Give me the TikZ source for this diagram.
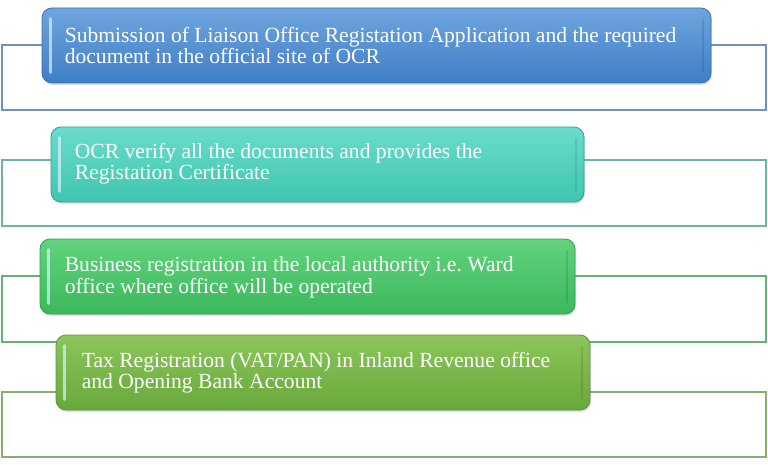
\documentclass[tikz,border=0pt]{standalone}
\usepackage{fontspec}
\setmainfont{Liberation Serif}
\usetikzlibrary{shadows}
\definecolor{bAt}{HTML}{6FA5DE}\definecolor{bAb}{HTML}{3F7EC5}\definecolor{bAd}{HTML}{3A70B0}
\definecolor{bBt}{HTML}{6ADCCB}\definecolor{bBb}{HTML}{3FC6AE}\definecolor{bBd}{HTML}{35A08C}
\definecolor{bCt}{HTML}{62D37E}\definecolor{bCb}{HTML}{3CB85B}\definecolor{bCd}{HTML}{35A050}
\definecolor{bDt}{HTML}{8CC65C}\definecolor{bDb}{HTML}{68A83A}\definecolor{bDd}{HTML}{5E963A}
\definecolor{rA}{HTML}{7090C0}\definecolor{rB}{HTML}{6DB3AA}\definecolor{rC}{HTML}{6AAF78}\definecolor{rD}{HTML}{88AE6E}
\definecolor{hl}{HTML}{D8F4FF}
\tikzset{
  bgrect/.style={draw=#1, line width=1.5pt, fill=white, rectangle, inner sep=0pt, minimum width=764pt},
  stepbox/.style={rectangle, rounded corners=10pt, inner sep=0pt, line width=0.8pt, minimum height=75pt,
     drop shadow={opacity=0.25, shadow xshift=1pt, shadow yshift=-2pt}},
  steptext/.style={anchor=west, align=left, text=white, inner sep=0pt, font=\fontsize{21.6}{21.5}\selectfont},
  hilite/.style={line width=3pt, line cap=round, draw=hl, opacity=0.7},
  shade/.style={line width=2pt, line cap=round, draw=black, opacity=0.1}
}
\begin{document}
\begin{tikzpicture}[x=1pt,y=-1pt]
\useasboundingbox (0,0) rectangle (768,465);
% background frames
\node[bgrect=rA, minimum height=65pt] (r1) at (384,77.5) {};
\node[bgrect=rB, minimum height=66pt] (r2) at (384,193) {};
\node[bgrect=rC, minimum height=66pt] (r3) at (384,309) {};
\node[bgrect=rD, minimum height=65pt] (r4) at (384,424.5) {};
% step boxes
\node[stepbox, top color=bAt, bottom color=bAb, draw=bAd, minimum width=669pt] (b1) at (376.5,45.5) {};
\node[stepbox, top color=bBt, bottom color=bBb, draw=bBd, minimum width=533pt] (b2) at (317.5,164.5) {};
\node[stepbox, top color=bCt, bottom color=bCb, draw=bCd, minimum width=535pt] (b3) at (307.5,276.5) {};
\node[stepbox, top color=bDt, bottom color=bDb, draw=bDd, minimum width=534pt] (b4) at (323,372.5) {};
% highlights
\foreach \b in {b1,b2,b3,b4}{
  \draw[hilite] ([xshift=9pt,yshift=-11pt]\b.north west) -- ([xshift=9pt,yshift=11pt]\b.south west);
  \draw[shade] ([xshift=-8pt,yshift=-12pt]\b.north east) -- ([xshift=-8pt,yshift=12pt]\b.south east);
}
% texts
\node[steptext] (t1) at ([xshift=23pt]b1.west) {Submission of Liaison Office Registation Application and the required\\document in the official site of OCR};
\node[steptext] (t2) at ([xshift=24pt,yshift=1pt]b2.west) {OCR verify all the documents and provides the\\Registation Certificate};
\node[steptext] (t3) at ([xshift=25pt,yshift=-1pt]b3.west) {Business registration in the local authority i.e.\ Ward\\office where office will be operated};
\node[steptext] (t4) at ([xshift=26pt]b4.west) {Tax Registration (VAT/PAN) in Inland Revenue office\\and Opening Bank Account};
\end{tikzpicture}
\end{document}
